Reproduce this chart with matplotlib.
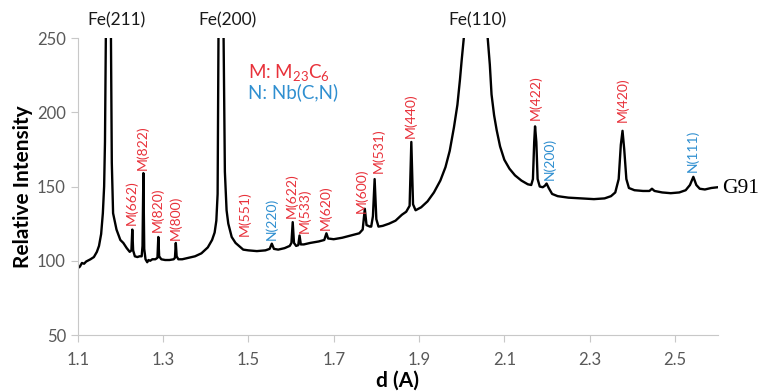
import numpy as np
import matplotlib
matplotlib.use("Agg")
import matplotlib.pyplot as plt

plt.rcParams['font.family'] = ['Lato', 'DejaVu Sans']
plt.rcParams['mathtext.fontset'] = 'custom'
plt.rcParams['mathtext.rm'] = 'Lato'
plt.rcParams['mathtext.default'] = 'regular'

# spectrum (d in A, relative intensity)
d = [1.100, 1.105, 1.110, 1.115, 1.120, 1.130, 1.138, 1.145, 1.150, 1.155,
     1.159, 1.162, 1.164, 1.166, 1.172, 1.178, 1.180, 1.183, 1.191, 1.200,
     1.207, 1.215, 1.222, 1.226, 1.228, 1.230, 1.234, 1.240, 1.245, 1.250,
     1.252, 1.254, 1.256, 1.259, 1.263, 1.266, 1.270, 1.275, 1.282, 1.287,
     1.289, 1.291, 1.296, 1.305, 1.315, 1.325, 1.328, 1.330, 1.332, 1.336,
     1.345, 1.360, 1.375, 1.390, 1.405, 1.415, 1.421, 1.425, 1.428, 1.430,
     1.436, 1.442, 1.445, 1.449, 1.453, 1.461, 1.470, 1.488, 1.500, 1.520,
     1.540, 1.550, 1.555, 1.560, 1.570, 1.585, 1.597, 1.601, 1.604, 1.607,
     1.612, 1.617, 1.620, 1.623, 1.630, 1.645, 1.665, 1.678, 1.683, 1.687,
     1.700, 1.720, 1.740, 1.760, 1.768, 1.773, 1.777, 1.785, 1.788, 1.792,
     1.796, 1.800, 1.805, 1.815, 1.830, 1.845, 1.860, 1.870, 1.878, 1.882,
     1.886, 1.892, 1.905, 1.920, 1.935, 1.950, 1.962, 1.972, 1.982, 1.990,
     1.996, 2.000, 2.005, 2.033, 2.061, 2.066, 2.070, 2.076, 2.082, 2.090,
     2.100, 2.112, 2.125, 2.140, 2.155, 2.163, 2.167, 2.170, 2.172, 2.175,
     2.178, 2.183, 2.190, 2.195, 2.199, 2.204, 2.212, 2.225, 2.250, 2.280,
     2.310, 2.335, 2.350, 2.360, 2.368, 2.373, 2.377, 2.381, 2.386, 2.392,
     2.405, 2.425, 2.440, 2.446, 2.452, 2.470, 2.490, 2.510, 2.525, 2.535,
     2.543, 2.550, 2.558, 2.570, 2.585, 2.600]
intensity = [95, 96, 98.5, 98, 99.5, 101, 102.5, 106, 110, 118,
             132, 150, 180, 250, 1200, 250, 166, 132, 121, 114,
             112, 108.5, 106, 107, 121, 107, 103, 102.5, 103, 103,
             110, 159, 108, 101, 99, 100.5, 100, 101, 101, 102,
             116, 103, 101, 100.5, 100.5, 101, 102, 112, 103, 101,
             101, 102, 103, 105, 109, 114, 119, 127, 145, 250,
             1500, 250, 160, 134, 125, 116, 112, 107.5, 107, 106.5,
             107, 108, 111.5, 108, 107.5, 108.5, 110, 112, 126, 112,
             110, 110.5, 117, 111, 111, 112, 113, 114, 118.5, 115,
             114.5, 115.5, 117, 118.5, 121, 135, 124, 123, 123, 130,
             155, 128, 123, 123.5, 125, 127, 131, 133, 137, 180,
             138, 134, 136, 140, 146, 154, 163, 174, 190, 205,
             222, 235, 250, 2500, 250, 232, 212, 198, 188, 177,
             168, 162, 157.5, 154, 151.5, 151, 155, 180, 190.5, 180,
             155, 150, 149.5, 150.5, 152, 149, 145, 143.5, 142.5, 142,
             141.5, 142, 143.5, 146, 155, 178, 187.5, 175, 155, 149,
             147.5, 147, 147, 148.5, 147, 146, 145.5, 146, 147.5, 151,
             156.5, 151, 148.5, 148, 149, 149.5]

# peak labels (position of the lower end of each rotated label)
peak_names = ["M(662)", "M(822)", "M(820)", "M(800)", "M(551)", "N(220)",
              "M(622)", "M(533)", "M(620)", "M(600)", "M(531)", "M(440)",
              "M(422)", "N(200)", "M(420)", "N(111)"]
peak_d = [1.225, 1.253, 1.288, 1.329, 1.492, 1.554, 1.600, 1.631, 1.681,
          1.766, 1.805, 1.879, 2.172, 2.205, 2.376, 2.542]
peak_y = [124, 161, 119.5, 114, 116.5, 114, 129, 118.5, 120.5, 132, 159,
          183, 195, 154.5, 193.5, 160]

fe_names = ["Fe(211)", "Fe(200)", "Fe(110)"]
fe_d = [1.192, 1.450, 2.037]

red = "#e8313a"
blue = "#2f8fd0"

fig = plt.figure(figsize=(7.66, 3.91), dpi=100)
ax = fig.add_axes([0.1014, 0.1432, 0.8355, 0.7596])

ax.plot(d, intensity, color="black", lw=1.7)

ax.set_xlim(1.1, 2.6)
ax.set_ylim(50, 250)
ax.set_xticks([1.1, 1.3, 1.5, 1.7, 1.9, 2.1, 2.3, 2.5])
ax.set_yticks([50, 100, 150, 200, 250])

for s in ["top", "right"]:
    ax.spines[s].set_visible(False)
for s in ["left", "bottom"]:
    ax.spines[s].set_color("#c8c8c8")
ax.tick_params(colors="#c8c8c8", labelcolor="#595959", labelsize=12, length=5)
ax.tick_params(axis="x", pad=7)

ax.set_xlabel("d (A)", fontsize=15, fontweight="bold", labelpad=2)
ax.set_ylabel("Relative Intensity", fontsize=15, fontweight="bold", labelpad=3)

for name, x in zip(fe_names, fe_d):
    ax.text(x, 262, name, ha="center", va="center", fontsize=12.5,
            color="#1a1a1a", clip_on=False)

for name, x, y in zip(peak_names, peak_d, peak_y):
    col = blue if name.startswith("N") else red
    ax.text(x, y, name, rotation=90, ha="center", va="bottom",
            fontsize=10, color=col)

ax.text(1.5, 227, "M: M$_{23}$C$_{6}$", fontsize=13.5, color=red, va="center")
ax.text(1.5, 213.5, "N: Nb(C,N)", fontsize=13.5, color=blue, va="center")

ax.text(2.61, 148.5, "G91", fontsize=15.5, family="Liberation Serif",
        va="center", ha="left", clip_on=False)

fig.savefig("out.png", dpi=100)
